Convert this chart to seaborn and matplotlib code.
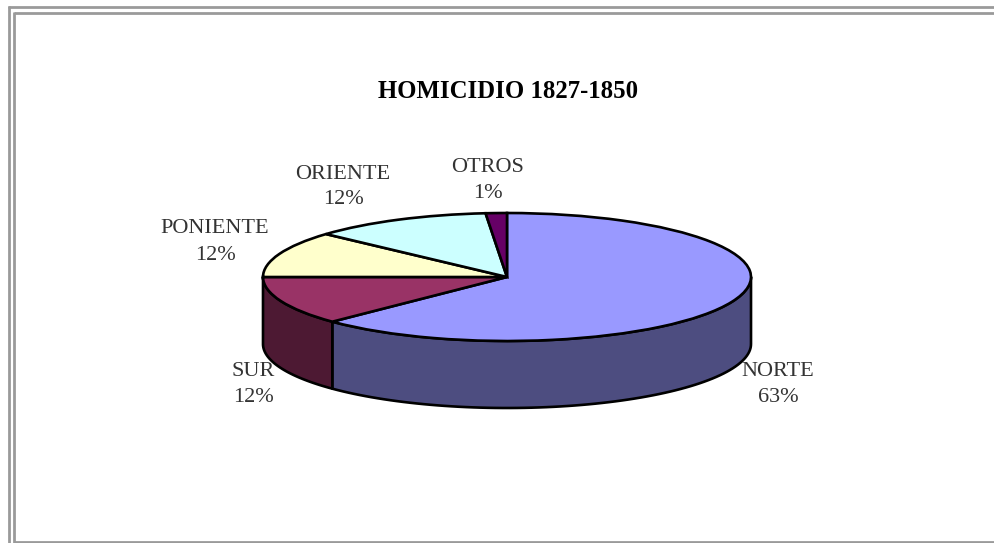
import numpy as np
import seaborn as sns
import matplotlib.pyplot as plt
from matplotlib.lines import Line2D

# Data
regions = ['NORTE', 'SUR', 'PONIENTE', 'ORIENTE', 'OTROS']
shares = [62.7, 12.3, 11.7, 11.9, 1.4]
top_colors = ['#9999FF', '#993366', '#FFFFCC', '#CCFFFF', '#660066']
side_colors = ['#4D4D80', '#4D1933', '#808066', '#668080', '#330033']
title = 'HOMICIDIO 1827-1850'

sns.set_theme(style='white')
plt.rcParams['font.family'] = ['Liberation Serif', 'DejaVu Serif']

W, H = 995, 543
fig = plt.figure(figsize=(W / 100, H / 100), dpi=100, facecolor='white')


def fx(px):
    return px / W


def fy(py):
    return 1 - py / H


# Double frame around the chart
frame_color = '#9A9A9A'
frame_lines = [((9, 9), (6, 543)), ((14.5, 14.5), (12, 543)),
               ((8, 995), (7, 7)), ((14, 995), (13, 13)), ((14, 995), (542, 542))]
for xs, ys in frame_lines:
    fig.add_artist(Line2D([fx(x) for x in xs], [fy(y) for y in ys],
                          color=frame_color, lw=2, solid_capstyle='butt'))

# Axes box is the top ellipse of the pie
left, top, width, height = 263, 213, 488, 128
ax = fig.add_axes([fx(left), fy(top + height), width / W, height / H])
depth = 67 / (height / 2)

# Side wall, only the front half of the pie shows
edges = 90 - np.cumsum([0] + shares) * 3.6
for start, end, color in zip(edges[:-1], edges[1:], side_colors):
    lo = np.deg2rad(max(end, -180))
    hi = np.deg2rad(min(start, 0))
    if hi <= lo:
        continue
    t = np.linspace(lo, hi, 80)
    xs = np.concatenate([np.cos(t), np.cos(t[::-1])])
    ys = np.concatenate([np.sin(t), np.sin(t[::-1]) - depth])
    ax.fill(xs, ys, facecolor=color, edgecolor='black', lw=1.9,
            joinstyle='round', clip_on=False, zorder=1)

wedges, _ = ax.pie(shares, colors=top_colors, startangle=90, counterclock=False,
                   radius=1, wedgeprops={'edgecolor': 'black', 'linewidth': 1.9})
for w in wedges:
    w.set_zorder(2)
    w.set_clip_on(False)
ax.set_aspect('auto')
ax.set_xlim(-1, 1)
ax.set_ylim(-1, 1)
ax.axis('off')

# Slice labels, name then rounded share
label_pos = [(778, 384), (253, 384), (215, 242), (343, 187), (488, 180)]
for name, share, (px, py) in zip(regions, shares, label_pos):
    fig.text(fx(px), fy(py - 13), name, ha='center', va='center', fontsize=16, color='#333333')
    fig.text(fx(px), fy(py + 13), f'{share:.0f}%', ha='center', va='center', fontsize=16, color='#333333')

fig.text(fx(508), fy(91), title, ha='center', va='center', fontsize=17.8,
         fontweight='bold', color='black')

fig.savefig('out.png', dpi=100)
